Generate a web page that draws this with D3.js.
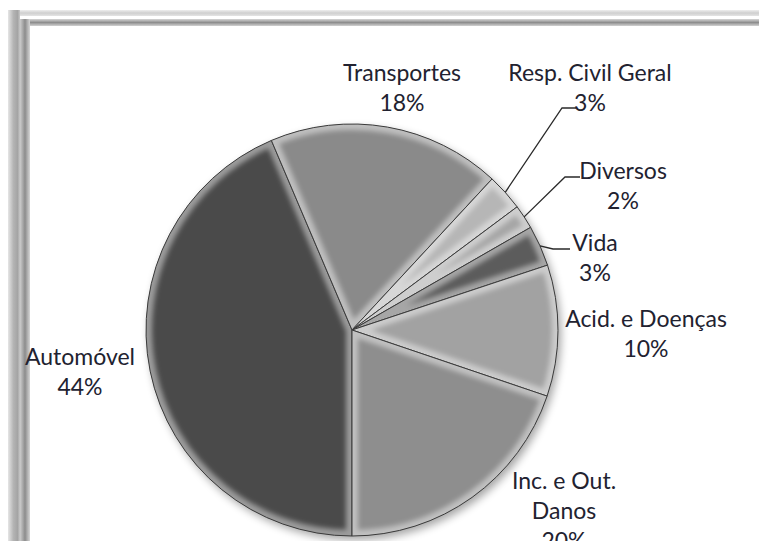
<!DOCTYPE html>
<html>
<head>
<meta charset="utf-8">
<script src="https://cdn.jsdelivr.net/npm/d3@7"></script>
<style>
  html, body { margin: 0; padding: 0; background: #fff; }
  svg { display: block; }
</style>
</head>
<body>
<div id="chart"></div>
<script>
// Data (percent of total)
const categories = ["Automóvel", "Transportes", "Resp. Civil Geral", "Diversos", "Vida", "Acid. e Doenças", "Inc. e Out. Danos"];
const values = [43.6, 18.3, 2.9, 1.9, 3.2, 10.3, 19.8];
const labelLines = [["Automóvel"], ["Transportes"], ["Resp. Civil Geral"], ["Diversos"], ["Vida"], ["Acid. e Doenças"], ["Inc. e Out.", "Danos"]];

// Styling / layout
const sliceColors = ["#4a4a4a", "#8a8a8a", "#b6b6b6", "#a6a6a6", "#5c5c5c", "#a2a2a2", "#8e8e8e"];
const labelPos = {
  "Automóvel": [80, 365],
  "Transportes": [402, 81],
  "Resp. Civil Geral": [590, 81],
  "Diversos": [623, 179],
  "Vida": [595, 251],
  "Acid. e Doenças": [646, 327],
  "Inc. e Out. Danos": [564, 489]
};
const leaders = {
  "Resp. Civil Geral": [[562, 108], [576, 108]],
  "Diversos": [[565, 177], [580, 177]],
  "Vida": [[553, 249], [570, 249]]
};

const width = 759, height = 541;
const cx = 352, cy = 330, radius = 206;
const lineGap = 30;

const svg = d3.select("#chart").append("svg")
  .attr("width", width)
  .attr("height", height);

const defs = svg.append("defs");

// frame gradients
function gradient(id, horizontal, stops) {
  const g = defs.append("linearGradient").attr("id", id)
    .attr("x1", 0).attr("y1", 0)
    .attr("x2", horizontal ? 1 : 0).attr("y2", horizontal ? 0 : 1);
  stops.forEach(s => g.append("stop").attr("offset", s[0]).attr("stop-color", s[1]));
}
gradient("topOuter", false, [[0, "#eeeeee"], [0.5, "#cfcfcf"], [1, "#e4e4e4"]]);
gradient("topInner", false, [[0, "#d6d6d6"], [0.5, "#8e8e8e"], [1, "#d2d2d2"]]);
gradient("leftOuter", true, [[0, "#e6e6e6"], [0.45, "#b4b4b4"], [0.8, "#a4a4a4"], [1, "#c8c8c8"]]);
gradient("leftInner", true, [[0, "#cccccc"], [0.5, "#8c8c8c"], [1, "#d6d6d6"]]);

const blur = defs.append("filter").attr("id", "soft")
  .attr("x", "-20%").attr("y", "-20%").attr("width", "140%").attr("height", "140%");
blur.append("feGaussianBlur").attr("stdDeviation", 2.5);

const shadowF = defs.append("filter").attr("id", "shadow")
  .attr("x", "-20%").attr("y", "-20%").attr("width", "140%").attr("height", "140%");
shadowF.append("feGaussianBlur").attr("stdDeviation", 4);

// frame
svg.append("rect").attr("x", 8).attr("y", 10).attr("width", width - 8).attr("height", 6).attr("fill", "url(#topOuter)");
svg.append("rect").attr("x", 20).attr("y", 19).attr("width", width - 20).attr("height", 7).attr("fill", "url(#topInner)");
svg.append("rect").attr("x", 8).attr("y", 10).attr("width", 12).attr("height", height - 10).attr("fill", "url(#leftOuter)");
svg.append("rect").attr("x", 20).attr("y", 19).attr("width", 10).attr("height", height - 19).attr("fill", "url(#leftInner)");

// pie
const pie = d3.pie().sort(null).value(d => d)
  .startAngle(Math.PI).endAngle(3 * Math.PI);
const arcs = pie(values);
const arc = d3.arc().innerRadius(0).outerRadius(radius);

const g = svg.append("g").attr("transform", `translate(${cx},${cy})`);

g.append("circle")
  .attr("cx", 3).attr("cy", 4).attr("r", radius)
  .attr("fill", "#000").attr("opacity", 0.35)
  .attr("filter", "url(#shadow)");

arcs.forEach((a, i) => {
  const d = arc(a);
  defs.append("clipPath").attr("id", "clip" + i).append("path").attr("d", d).attr("transform", `translate(${cx},${cy})`);
});

const slice = g.selectAll("g.slice")
  .data(arcs)
  .enter().append("g")
  .attr("class", "slice");

slice.append("path")
  .attr("d", arc)
  .attr("fill", (d, i) => sliceColors[i]);

// soft bevel: blurred light stroke clipped inside each slice
slice.append("g")
  .attr("clip-path", (d, i) => `url(#clip${i})`)
  .attr("transform", `translate(${-cx},${-cy})`)
  .append("path")
  .attr("transform", `translate(${cx},${cy})`)
  .attr("d", arc)
  .attr("fill", "none")
  .attr("stroke", "#ffffff")
  .attr("stroke-opacity", 0.45)
  .attr("stroke-width", 12)
  .attr("filter", "url(#soft)");

slice.append("path")
  .attr("d", arc)
  .attr("fill", "none")
  .attr("stroke", "#3a3a3a")
  .attr("stroke-width", 1);

// leader lines
arcs.forEach((a, i) => {
  const name = categories[i];
  if (!leaders[name]) return;
  const mid = (a.startAngle + a.endAngle) / 2;
  const sx = cx + radius * Math.sin(mid);
  const sy = cy - radius * Math.cos(mid);
  const pts = [[sx, sy]].concat(leaders[name]);
  svg.append("path")
    .attr("d", d3.line()(pts))
    .attr("fill", "none")
    .attr("stroke", "#2a2a2a")
    .attr("stroke-width", 1.3);
});

// labels
const total = d3.sum(values);
arcs.forEach((a, i) => {
  const name = categories[i];
  const [lx, ly] = labelPos[name];
  const lines = labelLines[i].concat([Math.round(values[i] / total * 100) + "%"]);
  const t = svg.append("text")
    .attr("x", lx).attr("y", ly)
    .attr("text-anchor", "middle")
    .attr("font-family", "Lato, 'Noto Sans', sans-serif")
    .attr("font-size", "23px")
    .attr("fill", "#222230");
  lines.forEach((ln, k) => {
    t.append("tspan").attr("x", lx).attr("y", ly + k * lineGap).text(ln);
  });
});
</script>
</body>
</html>
